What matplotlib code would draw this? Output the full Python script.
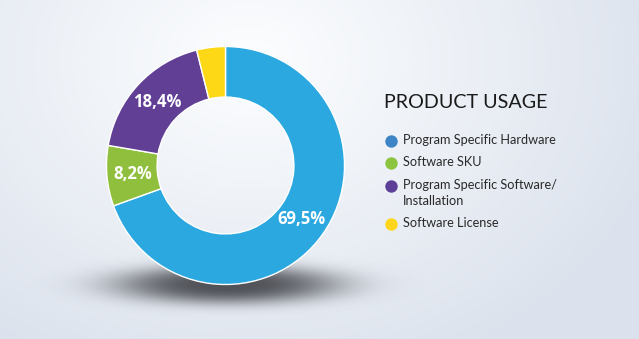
import numpy as np
import matplotlib
matplotlib.use("Agg")
import matplotlib.pyplot as plt

# ---- data ----
categories = ["Program Specific Hardware", "Software SKU",
              "Program Specific Software/\nInstallation", "Software License"]
values = [69.5, 8.2, 18.4, 3.9]
slice_colors = ["#2ba8e0", "#8fbf3c", "#613f95", "#fcd816"]
legend_colors = ["#3d85c6", "#8cc43f", "#5c3f96", "#fdd619"]
title = "PRODUCT USAGE"

W, H = 639, 339
fig = plt.figure(figsize=(W / 100, H / 100), dpi=100)

# background
bg = fig.add_axes([0, 0, 1, 1])
yy, xx = np.mgrid[0:H, 0:W]
d = np.sqrt(((xx - 250) / 420.0) ** 2 + ((yy - 60) / 330.0) ** 2)
d = np.clip(d, 0, 1)
c0 = np.array([0.99, 0.995, 1.0])
c1 = np.array([0.865, 0.89, 0.93])
img = c0[None, None, :] * (1 - d[..., None]) + c1[None, None, :] * d[..., None]
bg.imshow(img, extent=[0, W, H, 0], aspect="auto")
# shadow
ds = np.sqrt(((xx - 227) / 140.0) ** 2 + ((yy - 284) / 24.0) ** 2)
sh = np.exp(-(ds / 0.8) ** 3)
rgba = np.zeros((H, W, 4))
rgba[..., 0] = 0.28
rgba[..., 1] = 0.29
rgba[..., 2] = 0.31
rgba[..., 3] = 0.95 * sh
bg.imshow(rgba, extent=[0, W, H, 0], aspect="auto")
bg.set_xlim(0, W)
bg.set_ylim(H, 0)
bg.axis("off")

# donut
cx, cy, r = 225.5, 165.5, 119
pax = fig.add_axes([(cx - r) / W, (H - cy - r) / H, 2 * r / W, 2 * r / H])

def fmt(p):
    return ("%.1f%%" % p).replace(".", ",") if p > 5 else ""

wedges, texts, autotexts = pax.pie(
    values, colors=slice_colors, startangle=90, counterclock=False,
    wedgeprops=dict(width=1 - 0.575, edgecolor="white", linewidth=1.0),
    autopct=fmt, pctdistance=0.785,
    textprops=dict(color="white", fontsize=12, fontweight="bold", family="Open Sans"))
pax.set_xlim(-1, 1)
pax.set_ylim(-1, 1)
pax.axis("off")

# legend / title
fig.text(384 / W, 1 - 103 / H, title, fontsize=14.2, color="#1a1a1a",
         family="Lato", va="center", ha="left")
ys = [141, 163, 186, 224]
for cat, col, y in zip(categories, legend_colors, ys):
    bg.scatter([391], [y], s=80, color=col, linewidths=0, zorder=5)
    bg.text(403, y - 7, cat, fontsize=9.2, color="#2a2a2a", family="Lato",
            va="top", ha="left", linespacing=1.4)

fig.savefig("out.png", dpi=100)
